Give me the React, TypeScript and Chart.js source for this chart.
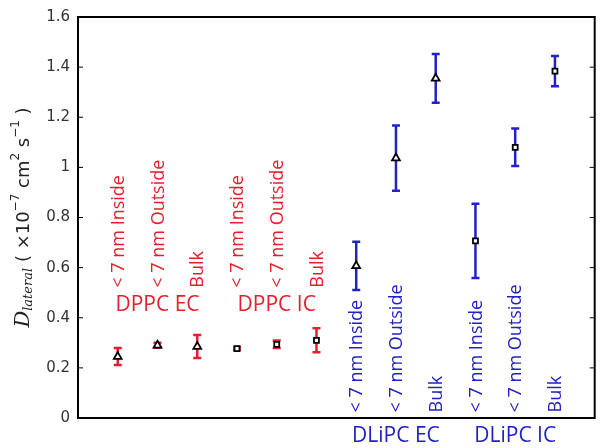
import React, { useEffect, useRef } from "react";
import { Chart, registerables } from "chart.js";

Chart.register(...registerables);

// ---- data ----
const categories = [
  "< 7 nm Inside", "< 7 nm Outside", "Bulk",
  "< 7 nm Inside", "< 7 nm Outside", "Bulk",
  "< 7 nm Inside", "< 7 nm Outside", "Bulk",
  "< 7 nm Inside", "< 7 nm Outside", "Bulk",
];
const groups = ["DPPC EC", "DPPC IC", "DLiPC EC", "DLiPC IC"];
const values = [0.245, 0.29, 0.285, 0.277, 0.294, 0.31, 0.607, 1.037, 1.355, 0.707, 1.08, 1.384];
const errors = [0.034, 0.01, 0.046, 0.006, 0.015, 0.048, 0.096, 0.13, 0.097, 0.148, 0.075, 0.06];
const markers = ["triangle", "triangle", "triangle", "rect", "rect", "rect", "triangle", "triangle", "triangle", "rect", "rect", "rect"];
const yTicks = [0, 0.2, 0.4, 0.6, 0.8, 1, 1.2, 1.4, 1.6];

const RED = "#e41f2d";
const BLUE = "#2222c4";

const App = () => {
  const ref = useRef<HTMLCanvasElement>(null);
  useEffect(() => {
    const canvas = ref.current!;
    const groupColor = (i: number) => (i < 6 ? RED : BLUE);

    const overlay = {
      id: "overlay",
      beforeDatasetsDraw(chart: any) {
        const { ctx } = chart;
        const xs = chart.scales.x;
        const ys = chart.scales.y;
        ctx.save();
        // error bars
        values.forEach((v, i) => {
          const x = xs.getPixelForValue(i + 1);
          const y1 = ys.getPixelForValue(v + errors[i]);
          const y2 = ys.getPixelForValue(v - errors[i]);
          ctx.strokeStyle = groupColor(i);
          ctx.lineWidth = 2.5;
          ctx.beginPath();
          ctx.moveTo(x, y1);
          ctx.lineTo(x, y2);
          ctx.moveTo(x - 4, y1);
          ctx.lineTo(x + 4, y1);
          ctx.moveTo(x - 4, y2);
          ctx.lineTo(x + 4, y2);
          ctx.stroke();
        });
        ctx.restore();
      },
      afterDraw(chart: any) {
        const { ctx, chartArea: a } = chart;
        const xs = chart.scales.x;
        const ys = chart.scales.y;
        ctx.save();
        // frame
        ctx.strokeStyle = "#000";
        ctx.lineWidth = 2;
        ctx.strokeRect(a.left, a.top, a.right - a.left, a.bottom - a.top);
        // inward ticks
        ctx.lineWidth = 1;
        yTicks.forEach((t) => {
          const y = ys.getPixelForValue(t);
          ctx.beginPath();
          ctx.moveTo(a.left, y);
          ctx.lineTo(a.left + 5, y);
          ctx.moveTo(a.right, y);
          ctx.lineTo(a.right - 5, y);
          ctx.stroke();
        });
        // category labels (rotated)
        ctx.font = "18px 'Open Sans'";
        ctx.textBaseline = "middle";
        ctx.textAlign = "left";
        categories.forEach((c, i) => {
          const x = xs.getPixelForValue(i + 1);
          const yb = i < 6 ? ys.getPixelForValue(0.52) : ys.getPixelForValue(0.022);
          ctx.save();
          ctx.translate(x + 1, yb);
          ctx.rotate(-Math.PI / 2);
          ctx.fillStyle = groupColor(i);
          ctx.fillText(c, 0, 0);
          ctx.restore();
        });
        // group labels
        ctx.font = "21px 'Open Sans'";
        ctx.textAlign = "center";
        groups.forEach((g, gi) => {
          const x = xs.getPixelForValue(gi * 3 + 2);
          const y = gi < 2 ? ys.getPixelForValue(0.45) : a.bottom + 18;
          ctx.fillStyle = gi < 2 ? RED : BLUE;
          ctx.fillText(g, x, y);
        });
        // y axis title
        const parts: [string, string, number][] = [
          ["D", "italic 21px 'DejaVu Serif'", 0],
          ["lateral", "italic 13px 'DejaVu Serif'", 5],
          [" ( \u00d710", "18px 'DejaVu Sans'", 0],
          ["\u22127", "12px 'DejaVu Sans'", -8],
          [" cm", "18px 'DejaVu Sans'", 0],
          ["2", "12px 'DejaVu Sans'", -8],
          [" s", "18px 'DejaVu Sans'", 0],
          ["\u22121", "12px 'DejaVu Sans'", -8],
          [" )", "18px 'DejaVu Sans'", 0],
        ];
        let total = 0;
        parts.forEach(([t, f]) => {
          ctx.font = f;
          total += ctx.measureText(t).width;
        });
        ctx.translate(24, (a.top + a.bottom) / 2);
        ctx.rotate(-Math.PI / 2);
        ctx.fillStyle = "#222";
        ctx.textAlign = "left";
        ctx.textBaseline = "middle";
        let px = -total / 2;
        parts.forEach(([t, f, dy]) => {
          ctx.font = f;
          ctx.fillText(t, px, dy);
          px += ctx.measureText(t).width;
        });
        ctx.restore();
      },
    };

    const chart = new Chart(canvas, {
      type: "scatter",
      data: {
        datasets: [
          {
            data: values.map((v, i) => ({ x: i + 1, y: v })),
            pointStyle: markers as any,
            pointRadius: markers.map((m) => (m === "rect" ? 3.5 : 4.5)),
            backgroundColor: "#fff",
            borderColor: "#000",
            pointBorderWidth: 1.8,
            showLine: false,
          },
        ],
      },
      options: {
        animation: false,
        responsive: true,
        maintainAspectRatio: false,
        layout: { padding: { left: 0, top: 15, right: 2, bottom: 30 } },
        plugins: { legend: { display: false }, tooltip: { enabled: false } },
        scales: {
          x: { type: "linear", min: 0, max: 13, display: false },
          y: {
            min: 0,
            max: 1.6,
            afterFit: (s: any) => {
              s.width = 78;
            },
            afterBuildTicks: (s: any) => {
              s.ticks = yTicks.map((v) => ({ value: v }));
            },
            grid: { display: false, drawTicks: false },
            border: { display: false },
            ticks: {
              padding: 8,
              color: "#333",
              font: { family: "'DejaVu Sans'", size: 15 },
              callback: (v: any) => String(v),
            },
          },
        },
      },
      plugins: [overlay],
    });
    return () => chart.destroy();
  }, []);
  return (
    <div style={{ position: "fixed", left: 0, top: 0, width: 601, height: 448, background: "#fff" }}>
      <canvas ref={ref} />
    </div>
  );
};

export default App;
